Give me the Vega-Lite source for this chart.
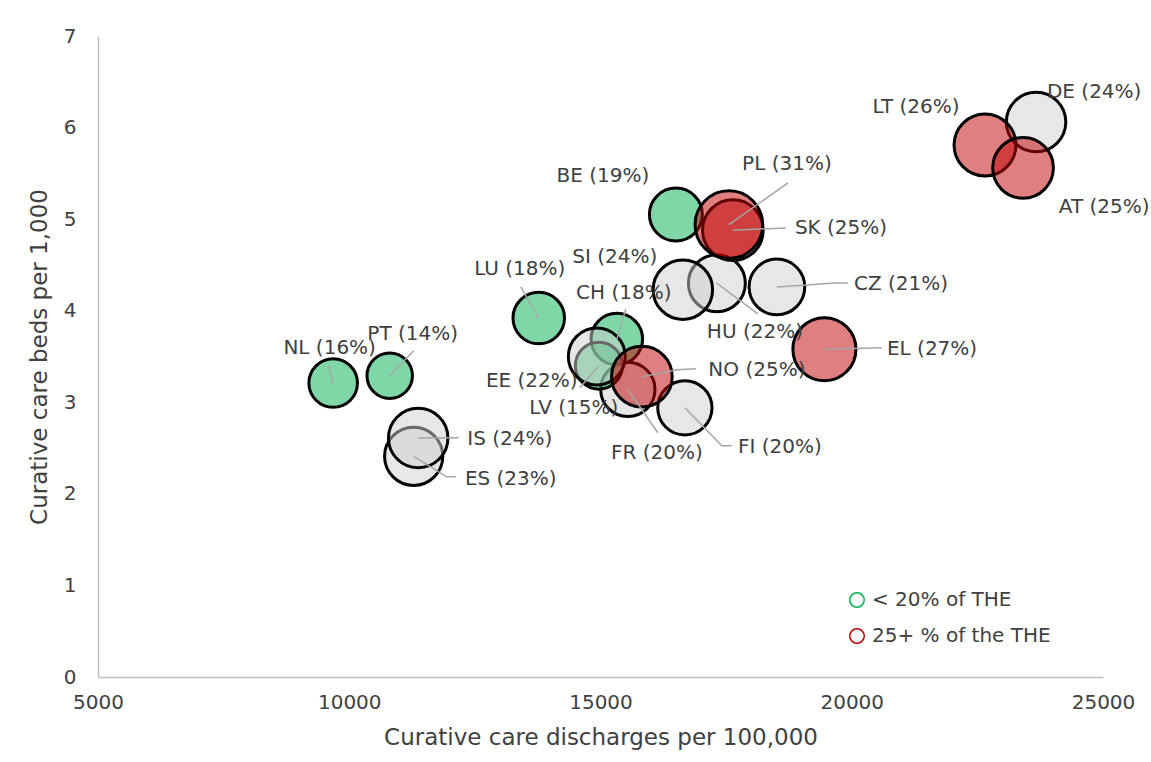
{
  "$schema": "https://vega.github.io/schema/vega-lite/v6.json",
  "width": 1005,
  "height": 641,
  "autosize": "none",
  "padding": {"left": 98, "top": 36, "right": 48, "bottom": 85},
  "background": "white",
  "config": {
    "view": {"stroke": null},
    "font": "DejaVu Sans",
    "axis": {
      "grid": false,
      "ticks": false,
      "domainColor": "#BFBFBF",
      "domainWidth": 1.5,
      "labelFont": "DejaVu Sans",
      "labelFontSize": 20,
      "labelColor": "#404040",
      "titleFont": "DejaVu Sans",
      "titleFontSize": 23,
      "titleFontWeight": "normal",
      "titleColor": "#404040",
      "labelFlush": false
    }
  },
  "datasets": {
    "countries": [
      {"c": "NL", "label": "NL (16%)", "pct": 16, "discharges": 9680, "beds": 3.21, "lx": 9610, "ly": 3.595},
      {"c": "PT", "label": "PT (14%)", "pct": 14, "discharges": 10805, "beds": 3.29, "lx": 11263, "ly": 3.747},
      {"c": "ES", "label": "ES (23%)", "pct": 23, "discharges": 11282, "beds": 2.41, "lx": 13214, "ly": 2.165},
      {"c": "IS", "label": "IS (24%)", "pct": 24, "discharges": 11372, "beds": 2.61, "lx": 13194, "ly": 2.601},
      {"c": "LU", "label": "LU (18%)", "pct": 18, "discharges": 13771, "beds": 3.92, "lx": 13393, "ly": 4.457},
      {"c": "BE", "label": "BE (19%)", "pct": 19, "discharges": 16500, "beds": 5.05, "lx": 15046, "ly": 5.472},
      {"c": "CZ", "label": "CZ (21%)", "pct": 21, "discharges": 18511, "beds": 4.26, "lx": 20980, "ly": 4.293},
      {"c": "HU", "label": "HU (22%)", "pct": 22, "discharges": 17316, "beds": 4.30, "lx": 18073, "ly": 3.769},
      {"c": "SI", "label": "SI (24%)", "pct": 24, "discharges": 16639, "beds": 4.23, "lx": 15285, "ly": 4.588},
      {"c": "SK", "label": "SK (25%)", "pct": 25, "discharges": 17634, "beds": 4.88, "lx": 19786, "ly": 4.904},
      {"c": "PL", "label": "PL (31%)", "pct": 31, "discharges": 17555, "beds": 4.94, "lx": 18710, "ly": 5.603},
      {"c": "CH", "label": "CH (18%)", "pct": 18, "discharges": 15325, "beds": 3.69, "lx": 15464, "ly": 4.195},
      {"c": "FR", "label": "FR (20%)", "pct": 20, "discharges": 15544, "beds": 3.14, "lx": 16121, "ly": 2.448},
      {"c": "LV", "label": "LV (15%)", "pct": 15, "discharges": 14967, "beds": 3.40, "lx": 14469, "ly": 2.940},
      {"c": "EE", "label": "EE (22%)", "pct": 22, "discharges": 14926, "beds": 3.50, "lx": 13632, "ly": 3.234},
      {"c": "FI", "label": "FI (20%)", "pct": 20, "discharges": 16679, "beds": 2.94, "lx": 18571, "ly": 2.514},
      {"c": "NO", "label": "NO (25%)", "pct": 25, "discharges": 15823, "beds": 3.28, "lx": 18113, "ly": 3.354},
      {"c": "EL", "label": "EL (27%)", "pct": 27, "discharges": 19456, "beds": 3.58, "lx": 21598, "ly": 3.584},
      {"c": "DE", "label": "DE (24%)", "pct": 24, "discharges": 23668, "beds": 6.06, "lx": 24824, "ly": 6.389},
      {"c": "LT", "label": "LT (26%)", "pct": 26, "discharges": 22652, "beds": 5.81, "lx": 21279, "ly": 6.225},
      {"c": "AT", "label": "AT (25%)", "pct": 25, "discharges": 23409, "beds": 5.56, "lx": 25023, "ly": 5.134}
    ],
    "leaders": [
      {"c": "NL", "i": 1, "x": 9680, "y": 3.21}, {"c": "NL", "i": 2, "x": 9590, "y": 3.398},
      {"c": "PT", "i": 1, "x": 10805, "y": 3.29}, {"c": "PT", "i": 2, "x": 11283, "y": 3.562},
      {"c": "IS", "i": 1, "x": 11372, "y": 2.61}, {"c": "IS", "i": 2, "x": 12179, "y": 2.612},
      {"c": "ES", "i": 1, "x": 11282, "y": 2.41}, {"c": "ES", "i": 2, "x": 11940, "y": 2.186}, {"c": "ES", "i": 3, "x": 12119, "y": 2.186},
      {"c": "LU", "i": 1, "x": 13771, "y": 3.92}, {"c": "LU", "i": 2, "x": 13414, "y": 4.26},
      {"c": "CH", "i": 1, "x": 15325, "y": 3.69}, {"c": "CH", "i": 2, "x": 15504, "y": 4.02},
      {"c": "LV", "i": 1, "x": 14967, "y": 3.40}, {"c": "LV", "i": 2, "x": 14587, "y": 3.158},
      {"c": "NO", "i": 1, "x": 15823, "y": 3.28}, {"c": "NO", "i": 2, "x": 16520, "y": 3.354}, {"c": "NO", "i": 3, "x": 16898, "y": 3.365},
      {"c": "FR", "i": 1, "x": 15544, "y": 3.14}, {"c": "FR", "i": 2, "x": 16141, "y": 2.667},
      {"c": "FI", "i": 1, "x": 16679, "y": 2.94}, {"c": "FI", "i": 2, "x": 17414, "y": 2.525}, {"c": "FI", "i": 3, "x": 17614, "y": 2.525},
      {"c": "PL", "i": 1, "x": 17555, "y": 4.94}, {"c": "PL", "i": 2, "x": 18730, "y": 5.396},
      {"c": "SK", "i": 1, "x": 17634, "y": 4.88}, {"c": "SK", "i": 2, "x": 18690, "y": 4.904},
      {"c": "HU", "i": 1, "x": 17316, "y": 4.30}, {"c": "HU", "i": 2, "x": 18133, "y": 3.966},
      {"c": "CZ", "i": 1, "x": 18511, "y": 4.26}, {"c": "CZ", "i": 2, "x": 19665, "y": 4.304}, {"c": "CZ", "i": 3, "x": 19925, "y": 4.304},
      {"c": "EL", "i": 1, "x": 19456, "y": 3.58}, {"c": "EL", "i": 2, "x": 20602, "y": 3.595}
    ],
    "legend": [
      {"cat": "< 20% of THE"},
      {"cat": "25+ % of the THE"}
    ]
  },
  "layer": [
    {
      "data": {"name": "countries"},
      "transform": [{"window": [{"op": "row_number", "as": "rn"}]}],
      "mark": {"type": "circle", "fillOpacity": 0.5, "stroke": "black", "strokeWidth": 3, "strokeOpacity": 1},
      "encoding": {
        "x": {
          "field": "discharges", "type": "quantitative",
          "scale": {"domain": [5000, 25000], "nice": false, "zero": false},
          "axis": {"values": [5000, 10000, 15000, 20000, 25000], "format": "d", "labelPadding": 15, "title": "Curative care discharges per 100,000", "titlePadding": 14}
        },
        "y": {
          "field": "beds", "type": "quantitative",
          "scale": {"domain": [0, 7], "nice": false},
          "axis": {"values": [0, 1, 2, 3, 4, 5, 6, 7], "format": "d", "labelPadding": 22, "title": "Curative care beds per 1,000", "titlePadding": 12}
        },
        "size": {"field": "pct", "type": "quantitative", "scale": {"domain": [0, 31], "range": [0, 4570]}, "legend": null},
        "fill": {
          "condition": [
            {"test": "datum.pct < 20", "value": "#00B050"},
            {"test": "datum.pct >= 25", "value": "#C00000"}
          ],
          "value": "#D0D0D0"
        },
        "order": {"field": "rn", "type": "quantitative"}
      }
    },
    {
      "data": {"name": "leaders"},
      "mark": {"type": "line", "color": "#A6A6A6", "strokeWidth": 1.5},
      "encoding": {
        "x": {"field": "x", "type": "quantitative"},
        "y": {"field": "y", "type": "quantitative"},
        "detail": {"field": "c"},
        "order": {"field": "i", "type": "quantitative"}
      }
    },
    {
      "data": {"name": "countries"},
      "mark": {"type": "text", "font": "DejaVu Sans", "fontSize": 20, "color": "#404040", "align": "center", "baseline": "middle"},
      "encoding": {
        "x": {"field": "lx", "type": "quantitative"},
        "y": {"field": "ly", "type": "quantitative"},
        "text": {"field": "label"}
      }
    },
    {
      "data": {"name": "legend"},
      "transform": [{"filter": "false"}],
      "mark": {"type": "point", "filled": false, "strokeWidth": 1.5},
      "encoding": {
        "stroke": {
          "field": "cat", "type": "nominal",
          "scale": {"domain": ["< 20% of THE", "25+ % of the THE"], "range": ["#00B050", "#C00000"]},
          "legend": {
            "title": null, "orient": "none", "legendX": 749, "legendY": 554,
            "symbolType": "circle", "symbolSize": 210, "symbolStrokeWidth": 1.5, "symbolOpacity": 1,
            "labelFont": "DejaVu Sans", "labelFontSize": 20, "labelColor": "#404040", "labelLimit": 400,
            "rowPadding": 14, "labelOffset": 5, "padding": 0
          }
        }
      }
    }
  ]
}
